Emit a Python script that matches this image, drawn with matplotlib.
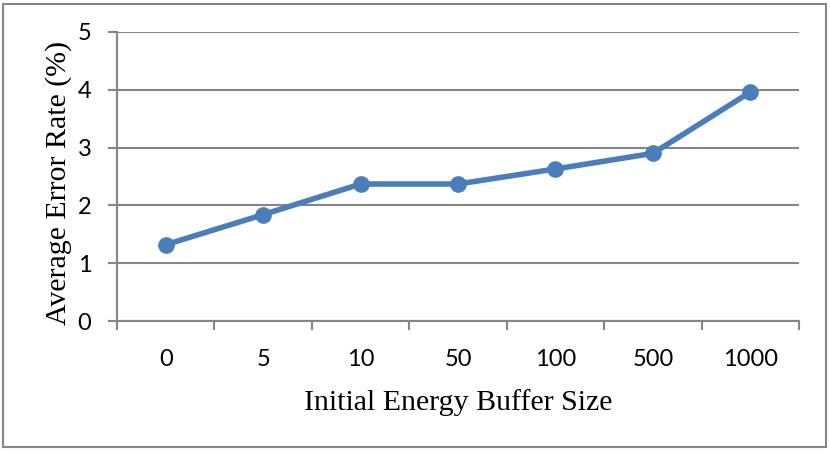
import matplotlib
matplotlib.use("Agg")
import matplotlib.pyplot as plt
from matplotlib.patches import Rectangle
import numpy as np

categories = ["0", "5", "10", "50", "100", "500", "1000"]
error_rate = [1.32, 1.84, 2.37, 2.37, 2.63, 2.90, 3.96]
y_ticks = [0, 1, 2, 3, 4, 5]

fig = plt.figure(figsize=(8.30, 4.51), dpi=100)
ax = fig.add_axes([117/830, 1-321/451, (799-117)/830, (321-32)/451])

grid_c = "#868686"
line_c = "#4A7EBB"

x = np.arange(len(categories))
ax.plot(x, error_rate, color=line_c, lw=4.0, marker="o", markersize=11,
        solid_capstyle="round", zorder=3, clip_on=False)

ax.set_xlim(-0.5, len(categories) - 0.5)
ax.set_ylim(0, 5)
ax.set_yticks(y_ticks)
ax.yaxis.grid(True, color=grid_c, lw=1.5)
ax.set_axisbelow(True)

ax.set_xticks(x)
ax.set_xticklabels(categories)
ax.set_xticks(np.arange(-0.5, len(categories) + 0.5, 1), minor=True)
ax.tick_params(axis="x", which="major", length=0, pad=20)
ax.tick_params(axis="x", which="minor", length=6.5, width=1.5, color=grid_c, direction="out")
ax.tick_params(axis="y", length=6.5, width=1.5, color=grid_c, pad=12)

for lab in ax.get_xticklabels() + ax.get_yticklabels():
    lab.set_fontfamily("Lato")
    lab.set_fontsize(17)

for s in ["top", "right"]:
    ax.spines[s].set_visible(False)
for s in ["left", "bottom"]:
    ax.spines[s].set_color(grid_c)
    ax.spines[s].set_linewidth(1.5)

ax.set_xlabel("Initial Energy Buffer Size", family="Liberation Serif", fontsize=21.5, labelpad=14)
ax.set_ylabel("Average Error Rate (%)", family="Liberation Serif", fontsize=21.5, labelpad=4)
ax.yaxis.label.set_y(0.476)

fig.patches.append(Rectangle((3/830, 4/451), 823/830, 443/451, transform=fig.transFigure,
                             fill=False, edgecolor=grid_c, lw=1.5))

fig.savefig("out.png", dpi=100)
